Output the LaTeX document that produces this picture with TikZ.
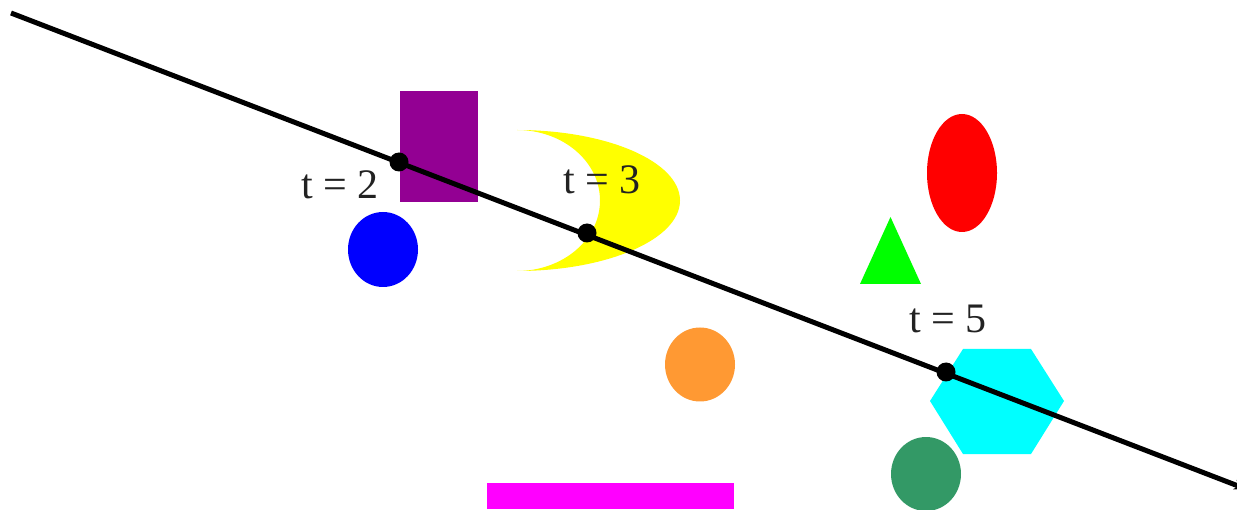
\documentclass[tikz,border=0pt]{standalone}
\usepackage{fontspec}
\setmainfont{Liberation Serif}
\usetikzlibrary{arrows.meta, positioning}

\definecolor{shapepurple}{RGB}{147,0,147}
\definecolor{shapeorange}{RGB}{255,153,51}
\definecolor{shapegreen}{RGB}{51,153,102}
\definecolor{shapeyellow}{RGB}{255,255,0}
\definecolor{shapecyan}{RGB}{0,255,255}
\definecolor{shapemagenta}{RGB}{255,0,255}
\definecolor{shapelime}{RGB}{0,255,0}
\definecolor{shapered}{RGB}{255,0,0}
\definecolor{shapeblue}{RGB}{0,0,255}
\definecolor{labelgray}{RGB}{34,34,34}

\begin{document}
\begin{tikzpicture}[x=1pt, y=1pt,
        path line/.style={draw, line width=5pt, -{Stealth[length=12pt, width=10pt]}},
        point/.style={circle, fill=black, inner sep=0pt, minimum size=19pt},
        label text/.style={text=labelgray, font=\fontsize{42}{50}\selectfont, anchor=base, inner sep=0pt}]
        \useasboundingbox (0,0) rectangle (1237,509);

        % shapes of the scene
        \fill[shapepurple] (400,307) rectangle (478,418);
        \fill[shapeblue] (383,259.5) ellipse [x radius=35pt, y radius=37.5pt];
        \fill[shapeyellow] (517,379) arc [start angle=90, end angle=-90, x radius=163pt, y radius=70.5pt]
            arc [start angle=-90, end angle=90, x radius=83pt, y radius=70.5pt] -- cycle;
        \fill[shapered] (962,336) ellipse [x radius=35pt, y radius=59pt];
        \fill[shapelime] (860,225) -- (921,225) -- (890.5,292) -- cycle;
        \fill[shapeorange] (700,144.5) ellipse [x radius=35pt, y radius=37pt];
        \fill[shapecyan] (930,108) -- (963,160) -- (1031,160) -- (1064,108) -- (1031,55) -- (963,55) -- cycle;
        \fill[shapegreen] (926,35) ellipse [x radius=35pt, y radius=37pt];
        \fill[shapemagenta] (487,0) rectangle (734,26);

        % the path and its points
        \coordinate (start) at (11,496);
        \coordinate (end) at (1246,20);
        \path [path line] (start) -- (end);

        \node [point] (p2) at (399,347) {};
        \node [point] (p3) at (587,276) {};
        \node [point] (p5) at (946,137) {};

        \node [label text] (l2) at (340,310) {t = 2};
        \node [label text] (l3) at (602,315) {t = 3};
        \node [label text] (l5) at (948,176) {t = 5};

    \end{tikzpicture}
\end{document}
